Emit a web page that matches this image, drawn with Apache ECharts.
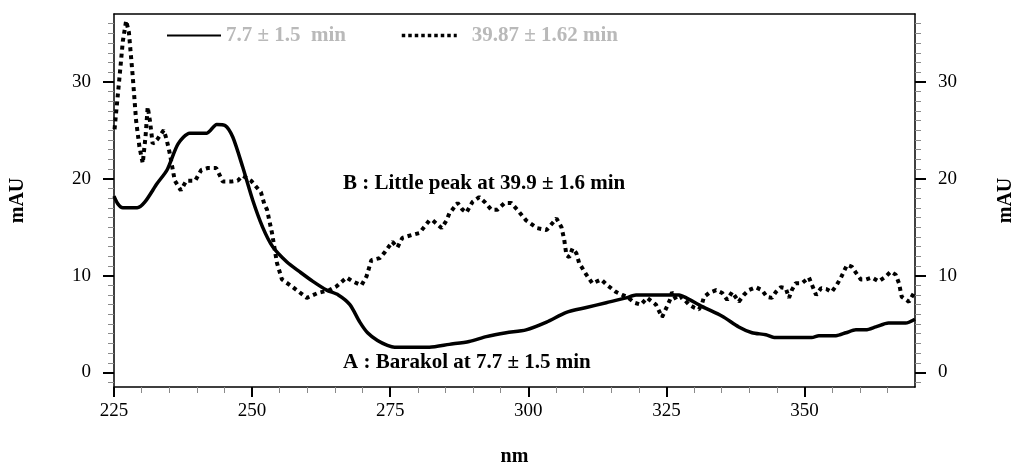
<!DOCTYPE html>
<html>
<head>
<meta charset="utf-8">
<script src="https://cdn.jsdelivr.net/npm/echarts@6/dist/echarts.min.js"></script>
<style>
  html, body { margin: 0; padding: 0; background: #fff; }
  #chart { width: 1020px; height: 466px; }
</style>
</head>
<body>
<div id="chart"></div>
<script>
// UV spectra (mAU vs wavelength) of the two chromatographic peaks
const nameA = '7.7 \u00b1 1.5  min';
const nameB = '39.87 \u00b1 1.62 min';

// Peak A (Barakol, 7.7 min) - solid trace
const wlA = [225.0, 225.7, 226.6, 229.2, 230.6, 232.8, 234.6, 236.6, 238.7, 241.8,
  243.6, 245.1, 246.5, 248.3, 250.1, 251.9, 253.7, 256.3, 258.6, 261.0,
  263.5, 265.6, 267.7, 269.5, 270.9, 272.7, 274.5, 275.8, 282.1, 285.7,
  289.3, 292.4, 296.0, 299.6, 303.3, 306.9, 310.5, 314.1, 317.7, 319.5,
  327.3, 328.6, 331.5, 335.1, 338.1, 340.5, 343.0, 344.5, 351.3, 352.6,
  355.7, 357.5, 359.3, 361.1, 362.9, 365.2, 368.3, 370.0];
const mauA = [18.2, 17.4, 17.0, 17.0, 17.6, 19.5, 20.9, 23.6, 24.7, 24.7,
  25.6, 25.5, 24.3, 21.2, 17.8, 15.0, 13.0, 11.4, 10.4, 9.4,
  8.5, 8.0, 7.0, 5.2, 4.1, 3.3, 2.8, 2.6, 2.6, 2.9,
  3.2, 3.7, 4.1, 4.4, 5.2, 6.2, 6.7, 7.2, 7.7, 8.0,
  8.0, 7.7, 6.8, 5.8, 4.7, 4.1, 3.9, 3.6, 3.6, 3.8,
  3.8, 4.1, 4.4, 4.4, 4.7, 5.1, 5.1, 5.5];

// Peak B (little peak, 39.9 min) - dotted trace
const wlB = [225.1, 226.0, 226.6, 227.2, 227.7, 228.4, 229.0, 229.6, 230.2, 230.7,
  231.1, 231.5, 232.0, 232.9, 234.0, 234.5, 235.1, 236.0, 237.1, 238.1,
  239.7, 240.8, 242.0, 243.5, 244.7, 246.2, 247.4, 248.3, 249.8, 251.6,
  252.2, 252.7, 253.6, 254.5, 255.4, 257.4, 259.9, 261.9, 264.0, 265.3,
  267.1, 268.2, 269.8, 270.7, 271.6, 273.1, 274.0, 275.4, 276.3, 277.2,
  279.0, 280.3, 282.1, 282.7, 284.3, 285.2, 285.7, 287.2, 288.1, 288.8,
  289.9, 291.1, 292.1, 293.3, 294.4, 295.7, 296.9, 298.0, 299.6, 301.6,
  303.3, 305.1, 306.0, 306.5, 306.9, 307.4, 308.0, 308.7, 309.2, 310.5,
  311.6, 313.2, 314.3, 315.9, 317.0, 317.9, 319.2, 320.4, 321.5, 323.1,
  323.7, 324.2, 325.1, 325.8, 326.0, 326.8, 327.8, 329.1, 330.0, 330.9,
  331.5, 331.8, 332.7, 334.0, 335.1, 336.0, 336.9, 338.1, 339.0, 339.9,
  341.2, 342.3, 343.2, 344.1, 344.8, 345.7, 346.6, 347.2, 347.7, 348.4,
  349.5, 350.8, 352.1, 353.0, 354.0, 354.9, 355.8, 356.6, 357.1, 357.7,
  358.6, 359.3, 360.2, 361.1, 362.2, 363.4, 364.7, 365.6, 366.5, 367.1,
  367.6, 368.9, 369.8];
const mauB = [25.1, 30.5, 34.2, 36.3, 35.1, 30.5, 26.0, 23.3, 21.6, 24.3,
  27.4, 26.0, 23.6, 24.1, 25.0, 24.1, 22.6, 19.8, 18.8, 19.8,
  19.8, 20.9, 21.1, 21.1, 19.7, 19.7, 19.8, 20.3, 19.8, 18.6,
  17.4, 16.8, 14.4, 11.3, 9.6, 8.8, 7.7, 8.2, 8.5, 8.9,
  9.8, 9.4, 9.0, 9.9, 11.6, 11.8, 12.4, 13.5, 12.9, 13.9,
  14.2, 14.4, 15.7, 15.7, 14.9, 15.7, 16.4, 17.5, 16.8, 16.5,
  17.6, 18.1, 17.6, 16.8, 16.8, 17.5, 17.5, 16.8, 15.7, 14.9,
  14.7, 15.9, 15.0, 13.7, 12.1, 11.9, 12.8, 12.3, 11.3, 10.1,
  9.2, 9.6, 9.0, 8.3, 8.0, 7.8, 7.2, 7.0, 7.7, 7.0,
  6.3, 5.7, 6.8, 7.7, 8.3, 7.5, 7.8, 7.0, 6.7, 6.5,
  7.2, 7.8, 8.2, 8.5, 8.2, 7.5, 8.3, 7.3, 8.0, 8.5,
  8.8, 8.5, 7.8, 7.7, 8.3, 8.8, 8.7, 7.7, 8.5, 9.2,
  9.2, 9.8, 8.0, 8.7, 8.6, 8.3, 9.0, 9.8, 10.4, 11.1,
  10.9, 10.3, 9.6, 9.6, 9.8, 9.4, 9.9, 10.4, 10.1, 9.2,
  7.8, 7.3, 8.2];

// Tick positions
const xMajor = [225, 250, 275, 300, 325, 350];
const xMinor = [230, 235, 240, 245, 255, 260, 265, 270, 280, 285, 290, 295,
  305, 310, 315, 320, 330, 335, 340, 345, 355, 360, 365];
const yMajor = [0, 10, 20, 30];
const yMinor = [-1, 1, 2, 3, 4, 5, 6, 7, 8, 9, 11, 12, 13, 14, 15, 16, 17, 18, 19,
  21, 22, 23, 24, 25, 26, 27, 28, 29, 31, 32, 33, 34, 35, 36];

const X_MIN = 225, X_MAX = 370, Y_MIN = -1.5, Y_MAX = 37;
const FONT = '"Liberation Serif", "Times New Roman", serif';

const zip = (xs, ys) => xs.map((x, i) => [x, ys[i]]);

const axisLineStyle = { color: '#000', width: 1.5 };
const majorTick = { color: '#000', width: 2 };
const minorTick = { color: '#8a8a8a', width: 1 };
const labelStyle = { fontFamily: FONT, fontSize: 19, color: '#000' };
const nameStyle = { fontFamily: FONT, fontSize: 20, fontWeight: 'bold', color: '#000' };
const legendText = { fontFamily: FONT, fontSize: 21, fontWeight: 'bold', color: '#b9b9b9' };

function yMain(pos) {
  return {
    type: 'value', min: Y_MIN, max: Y_MAX, position: pos,
    axisLine: { show: true, onZero: false, lineStyle: axisLineStyle },
    axisTick: { show: true, inside: false, length: 11, customValues: yMajor, lineStyle: majorTick },
    axisLabel: Object.assign({ show: true, customValues: yMajor, margin: 23 }, labelStyle),
    splitLine: { show: false },
    name: 'mAU', nameLocation: 'middle', nameRotate: 90,
    nameGap: pos === 'left' ? 86 : 81,
    nameTextStyle: nameStyle
  };
}
function yMinorAxis(pos) {
  return {
    type: 'value', min: Y_MIN, max: Y_MAX, position: pos,
    axisLine: { show: false, onZero: false },
    axisTick: { show: true, length: 6, customValues: yMinor, lineStyle: minorTick },
    axisLabel: { show: false },
    splitLine: { show: false }
  };
}

const chart = echarts.init(document.getElementById('chart'), null, { renderer: 'canvas' });

chart.setOption({
  animation: false,
  backgroundColor: '#fff',
  grid: { left: 114, right: 105, top: 14, bottom: 79, containLabel: false, outerBoundsMode: 'none' },
  legend: [
    {
      data: [nameA], left: 166, top: 25, padding: 0, itemWidth: 54, itemHeight: 14,
      itemStyle: { opacity: 0 },
      lineStyle: { width: 2 },
      textStyle: legendText
    },
    {
      data: [nameB], left: 400, top: 25, padding: 0, itemWidth: 55, itemHeight: 14,
      itemStyle: { opacity: 0 },
      lineStyle: { width: 3.5, type: [3.5, 3] },
      textStyle: Object.assign({ padding: [0, 0, 0, 10] }, legendText)
    }
  ],
  xAxis: [
    {
      type: 'value', min: X_MIN, max: X_MAX, position: 'bottom',
      axisLine: { show: true, onZero: false, lineStyle: axisLineStyle },
      axisTick: { show: true, length: 10, customValues: xMajor, lineStyle: majorTick },
      axisLabel: Object.assign({ show: true, customValues: xMajor, margin: 15 }, labelStyle),
      splitLine: { show: false },
      name: 'nm', nameLocation: 'middle', nameGap: 60, nameTextStyle: nameStyle
    },
    {
      type: 'value', min: X_MIN, max: X_MAX, position: 'bottom',
      axisLine: { show: false, onZero: false },
      axisTick: { show: true, length: 6, customValues: xMinor, lineStyle: minorTick },
      axisLabel: { show: false },
      splitLine: { show: false }
    },
    {
      type: 'value', min: X_MIN, max: X_MAX, position: 'top',
      axisLine: { show: true, onZero: false, lineStyle: axisLineStyle },
      axisTick: { show: false }, axisLabel: { show: false }, splitLine: { show: false }
    }
  ],
  yAxis: [yMain('left'), yMinorAxis('left'), yMain('right'), yMinorAxis('right')],
  series: [
    {
      name: nameA, type: 'line', xAxisIndex: 0, yAxisIndex: 0,
      data: zip(wlA, mauA), symbol: 'none', showSymbol: false, smooth: 0.25,
      itemStyle: { color: '#000' },
      lineStyle: { color: '#000', width: 3.5, join: 'round' },
      z: 3
    },
    {
      name: nameB, type: 'line', xAxisIndex: 0, yAxisIndex: 0,
      data: zip(wlB, mauB), symbol: 'none', showSymbol: false,
      itemStyle: { color: '#000' },
      lineStyle: { color: '#000', width: 4, type: [4, 4], cap: 'butt' },
      z: 2
    }
  ],
  graphic: [
    {
      type: 'text', left: 343, top: 173,
      style: { text: 'B : Little peak at 39.9 \u00b1 1.6 min', font: 'bold 21px ' + FONT, fill: '#000' }
    },
    {
      type: 'text', left: 343, top: 352,
      style: { text: 'A : Barakol at 7.7 \u00b1 1.5 min', font: 'bold 21px ' + FONT, fill: '#000' }
    }
  ]
});
</script>
</body>
</html>
